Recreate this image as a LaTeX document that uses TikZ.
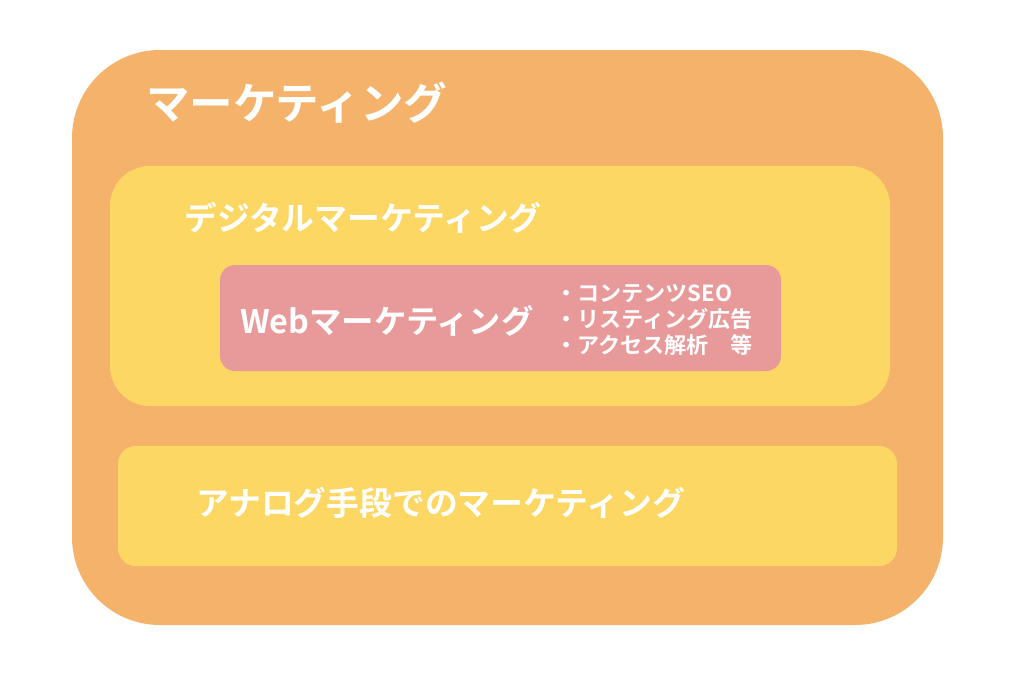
\documentclass[tikz,border=0pt]{standalone}
\usepackage{fontspec}
\setmainfont{Noto Sans CJK JP}[BoldFont={Noto Sans CJK JP Bold}]
\definecolor{orangebg}{HTML}{F5B26B}
\definecolor{yellowbg}{HTML}{FDD764}
\definecolor{pinkbg}{HTML}{E89A9A}
\tikzset{
  lbl/.style={anchor=west, inner sep=0pt, text=white, font=\bfseries},
}
\begin{document}
\begin{tikzpicture}[x=1pt,y=-1pt]
\useasboundingbox (0,0) rectangle (1024,683);
\fill[white] (0,0) rectangle (1024,683);
\fill[orangebg, rounded corners=88pt] (72,50) rectangle (943,625);
\fill[yellowbg, rounded corners=40pt] (110,166) rectangle (890,406);
\fill[pinkbg, rounded corners=15pt] (220,265) rectangle (781,371);
\fill[yellowbg, rounded corners=18pt] (118,446) rectangle (897,566);
\node[lbl, font=\bfseries\fontsize{43.5}{50}\selectfont] (t1) at (146,103) {マーケティング};
\node[lbl, font=\bfseries\fontsize{32.8}{37}\selectfont] (t2) at (184,218) {デジタルマーケティング};
\node[lbl, font=\bfseries\fontsize{32.4}{37}\selectfont] (t3) at (240,321) {Webマーケティング};
\node[lbl, font=\bfseries\fontsize{32.8}{37}\selectfont] (t4) at (196,503) {アナログ手段でのマーケティング};
\node[lbl, font=\bfseries\fontsize{22.1}{26}\selectfont, align=left] (t5) at (555,320) {・コンテンツSEO\\・リスティング広告\\・アクセス解析　等};
\end{tikzpicture}
\end{document}
